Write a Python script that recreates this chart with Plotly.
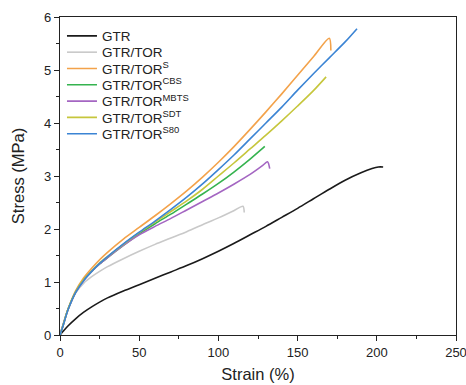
import plotly.graph_objects as go

names = ["GTR", "GTR/TOR", "GTR/TOR<sup>S</sup>", "GTR/TOR<sup>CBS</sup>",
         "GTR/TOR<sup>MBTS</sup>", "GTR/TOR<sup>SDT</sup>", "GTR/TOR<sup>S80</sup>"]
colors = ["#1a1a1a", "#c9c9c9", "#f3a24a", "#35b34f", "#a466c2", "#c6c63c", "#3b84d4"]

gtr_x = [0, 2, 5, 10, 15, 20, 25, 30, 40, 50, 60, 70, 80, 90, 100, 110, 120, 130, 140, 150, 160, 170, 180, 190, 197, 201, 204]
gtr_y = [0, 0.07, 0.17, 0.31, 0.43, 0.53, 0.62, 0.70, 0.83, 0.95, 1.07, 1.19, 1.31, 1.44, 1.58, 1.73, 1.89, 2.05, 2.22, 2.39, 2.57, 2.75, 2.92, 3.06, 3.14, 3.17, 3.17]

tor_x = [0, 2, 5, 10, 15, 20, 25, 30, 40, 50, 60, 70, 80, 90, 100, 110, 115.5, 116.3]
tor_y = [0, 0.21, 0.48, 0.8, 0.98, 1.1, 1.2, 1.29, 1.44, 1.58, 1.71, 1.83, 1.95, 2.08, 2.21, 2.35, 2.43, 2.31]

s_x = [0, 2, 5, 10, 15, 20, 25, 30, 40, 50, 60, 70, 80, 90, 100, 110, 120, 130, 140, 150, 160, 170, 171]
s_y = [0, 0.19, 0.48, 0.84, 1.08, 1.26, 1.42, 1.56, 1.81, 2.03, 2.25, 2.48, 2.72, 2.98, 3.26, 3.56, 3.88, 4.21, 4.55, 4.9, 5.25, 5.6, 5.37]

cbs_x = [0, 2, 5, 10, 15, 20, 25, 30, 40, 50, 60, 70, 80, 90, 100, 110, 120, 129.3]
cbs_y = [0, 0.19, 0.48, 0.82, 1.04, 1.2, 1.34, 1.46, 1.69, 1.91, 2.1, 2.28, 2.47, 2.66, 2.86, 3.08, 3.32, 3.56]

mbts_x = [0, 2, 5, 10, 15, 20, 25, 30, 40, 50, 60, 70, 80, 90, 100, 110, 120, 128, 131, 132.4]
mbts_y = [0, 0.19, 0.47, 0.81, 1.03, 1.2, 1.34, 1.46, 1.69, 1.89, 2.05, 2.2, 2.36, 2.52, 2.68, 2.85, 3.03, 3.2, 3.27, 3.14]

sdt_x = [0, 2, 5, 10, 15, 20, 25, 30, 40, 50, 60, 70, 80, 90, 100, 110, 120, 130, 140, 150, 160, 168]
sdt_y = [0, 0.19, 0.48, 0.82, 1.05, 1.21, 1.36, 1.48, 1.71, 1.93, 2.13, 2.33, 2.53, 2.75, 3.0, 3.25, 3.51, 3.77, 4.04, 4.32, 4.61, 4.87]

s80_x = [0, 2, 5, 10, 15, 20, 25, 30, 40, 50, 60, 70, 80, 90, 100, 110, 120, 130, 140, 150, 160, 170, 180, 187.5]
s80_y = [0, 0.18, 0.47, 0.81, 1.03, 1.2, 1.35, 1.48, 1.72, 1.94, 2.15, 2.37, 2.6, 2.85, 3.12, 3.4, 3.7, 4.0, 4.3, 4.62, 4.93, 5.23, 5.53, 5.78]

series_x = [gtr_x, tor_x, s_x, cbs_x, mbts_x, sdt_x, s80_x]
series_y = [gtr_y, tor_y, s_y, cbs_y, mbts_y, sdt_y, s80_y]

x_ticks = [0, 50, 100, 150, 200, 250]
y_ticks = [0, 1, 2, 3, 4, 5, 6]

FONT = "Liberation Sans, Arial"

fig = go.Figure()
legend_ids = ["legend"] + ["legend%d" % (i + 2) for i in range(len(names) - 1)]
for n, c, xs, ys, lid in zip(names, colors, series_x, series_y, legend_ids):
    fig.add_trace(go.Scatter(x=xs, y=ys, mode="lines", name=n, legend=lid,
                             line=dict(color=c, width=1.6, shape="spline", smoothing=0.8)))

axis_common = dict(showline=True, linecolor="#222", linewidth=1.3, mirror=True,
                   ticks="outside", ticklen=5, tickcolor="#222", showgrid=False,
                   zeroline=False, ticklabeloverflow="allow", automargin=False,
                   tickfont=dict(family=FONT, size=13, color="#222"))

fig.update_xaxes(range=[0, 250], tickvals=x_ticks,
                 title=dict(text="Strain (%)", font=dict(family=FONT, size=16.5, color="#222"), standoff=9),
                 minor=dict(ticks="outside", dtick=25, ticklen=3, tickcolor="#222"),
                 **axis_common)
fig.update_yaxes(range=[0, 6], tickvals=y_ticks,
                 title=dict(text="Stress (MPa)", font=dict(family=FONT, size=16.5, color="#222"), standoff=15),
                 minor=dict(ticks="outside", dtick=0.5, ticklen=3, tickcolor="#222"),
                 **axis_common)

legend_layout = {}
row_top = 0.940
row_step = 0.0513
for i, lid in enumerate(legend_ids):
    legend_layout[lid] = dict(x=0.005, y=row_top - i * row_step, xanchor="left", yanchor="middle",
                              bgcolor="rgba(0,0,0,0)", borderwidth=0,
                              font=dict(family=FONT, size=13.5, color="#222"),
                              itemwidth=30)

fig.update_layout(
    width=466, height=385,
    margin=dict(l=60, r=10, t=17, b=50),
    paper_bgcolor="white", plot_bgcolor="white",
    showlegend=True,
    **legend_layout,
)

fig.write_html("out.html")
